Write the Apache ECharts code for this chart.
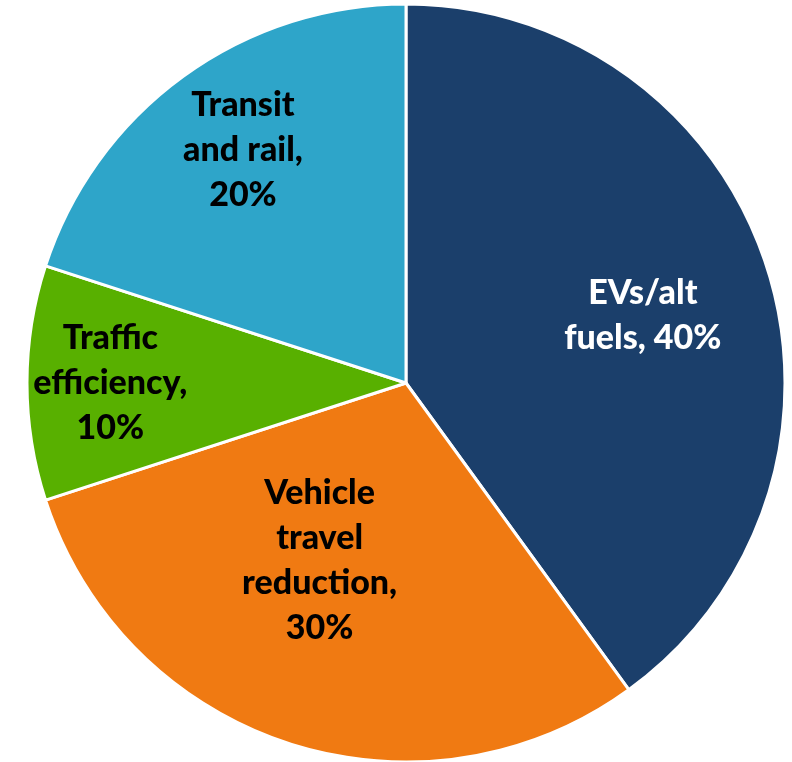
<!DOCTYPE html>
<html><head><meta charset="utf-8">
<script src="https://cdn.jsdelivr.net/npm/echarts@6/dist/echarts.min.js"></script>
<style>html,body{margin:0;padding:0;background:#fff}#c{width:792px;height:762px}</style>
</head><body><div id="c"></div>
<script>
const categories = ['EVs/alt fuels', 'Vehicle travel reduction', 'Traffic efficiency', 'Transit and rail'];
const labelTexts = ['EVs/alt\nfuels, 40%', 'Vehicle\ntravel\nreduction,\n30%', 'Traffic\nefficiency,\n10%', 'Transit\nand rail,\n20%'];
const values = [40, 30, 10, 20];
const colors = ['#1B3F6B', '#F07A12', '#58B000', '#2EA5C9'];
const labelColors = ['#ffffff', '#000000', '#000000', '#000000'];
// label placement: fraction of radius and angle shift (deg) from slice middle
const labelFrac = [0.65, 0.52, 0.78, 0.75];
const labelAngleShift = [2, 8, 0, 1];

const CX = 406, CY = 383, R = 379;
const total = values.reduce((a, b) => a + b, 0);
const midAngles = [];
let acc = 0;
values.forEach(v => { midAngles.push((acc + v / 2) / total * 360); acc += v; });

const chart = echarts.init(document.getElementById('c'), null, {renderer: 'canvas'});
chart.setOption({
  animation: false,
  series: [{
    type: 'pie',
    center: [CX, CY],
    radius: [0, R],
    startAngle: 90,
    clockwise: true,
    itemStyle: {borderColor: '#ffffff', borderWidth: 3},
    label: {
      show: true,
      position: 'inside',
      fontFamily: 'Lato',
      fontWeight: 900,
      fontSize: 34,
      lineHeight: 45,
      align: 'center'
    },
    labelLine: {show: false},
    emphasis: {disabled: true},
    labelLayout: function (p) {
      const i = p.dataIndex;
      const a = (midAngles[i] + labelAngleShift[i]) * Math.PI / 180;
      const tx = CX + labelFrac[i] * R * Math.sin(a);
      const ty = CY - labelFrac[i] * R * Math.cos(a);
      const lx = p.labelRect.x + p.labelRect.width / 2;
      const ly = p.labelRect.y + p.labelRect.height / 2;
      return {dx: tx - lx, dy: ty - ly};
    },
    data: categories.map((c, i) => ({
      name: c,
      value: values[i],
      itemStyle: {color: colors[i]},
      label: {formatter: labelTexts[i], color: labelColors[i]}
    }))
  }]
});
</script></body></html>
